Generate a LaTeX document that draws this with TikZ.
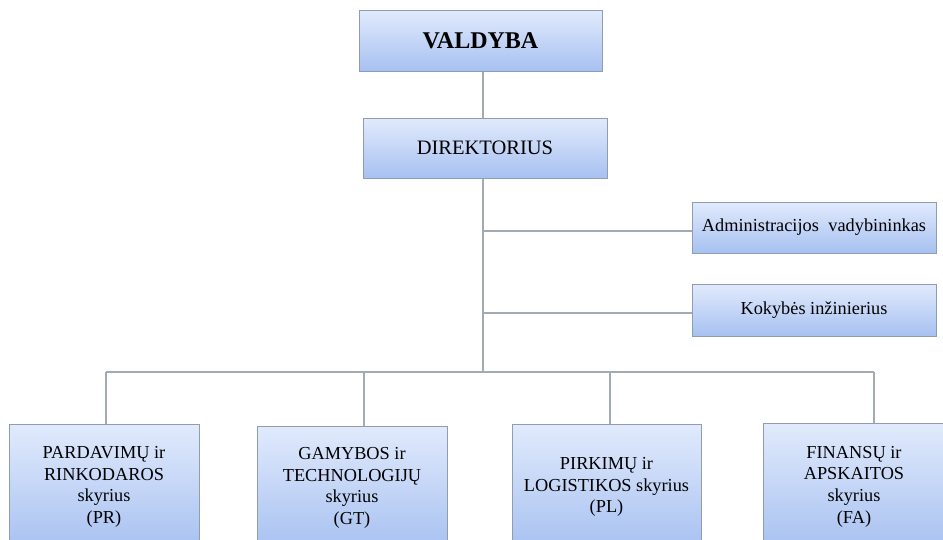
\documentclass[tikz,border=0pt]{standalone}
\usepackage{fontspec}
\setmainfont{Liberation Serif}
\newfontfamily\tnr{Liberation Serif}
\definecolor{boxtop}{HTML}{E1EAFC}
\definecolor{boxbot}{HTML}{A7C1F1}
\definecolor{boxline}{HTML}{8E9DB0}
\definecolor{conn}{HTML}{A2AAB2}
\tikzset{
  orgbox/.style={draw=boxline, line width=1pt, top color=boxtop, bottom color=boxbot,
    inner sep=0pt, align=center, text=black},
  conline/.style={draw=conn, line width=1.2pt},
  bigtxt/.style={font=\tnr\fontsize{24}{28}\selectfont\bfseries},
  midtxt/.style={font=\tnr\fontsize{20.5}{24}\selectfont},
  smtxt/.style={font=\tnr\fontsize{18.3}{21.7}\selectfont}
}
\begin{document}
\begin{tikzpicture}[x=1pt,y=-1pt]
\useasboundingbox (0,0) rectangle (943,539);
\clip (0,0) rectangle (943,539);
\fill[white] (0,0) rectangle (943,539);
% nodes
\node[orgbox,bigtxt,minimum width=243pt,minimum height=61pt] (val) at (480.5,40.5) {VALDYBA};
\node[orgbox,midtxt,minimum width=244pt,minimum height=60pt] (dir) at (485,148) {DIREKTORIUS};
\node[orgbox,smtxt,minimum width=244pt,minimum height=51pt] (adm) at (814,227.5) {Administracijos\hspace{5pt} vadybininkas};
\node[orgbox,smtxt,minimum width=244pt,minimum height=52pt] (kok) at (814,310) {Kokybės inžinierius};
\node[orgbox,smtxt,minimum width=190pt,minimum height=125pt] (pr) at (104,487) {PARDAVIMŲ ir\\RINKODAROS\\skyrius\\(PR)};
\node[orgbox,smtxt,minimum width=190pt,minimum height=123pt] (gt) at (352,488) {GAMYBOS ir\\TECHNOLOGIJŲ\\skyrius\\(GT)};
\node[orgbox,smtxt,minimum width=189pt,minimum height=125pt] (pl) at (606.5,487) {PIRKIMŲ ir\\LOGISTIKOS skyrius\\(PL)};
\node[orgbox,smtxt,minimum width=182pt,minimum height=126pt] (fa) at (854,486.5) {FINANSŲ ir\\APSKAITOS\\skyrius\\(FA)};
% junction coordinates
\coordinate (tb) at (483,372);
\coordinate (j1) at (483,231);
\coordinate (j2) at (483,313);
\coordinate (b1) at (106,372);
\coordinate (b2) at (364,372);
\coordinate (b3) at (610,372);
\coordinate (b4) at (874,372);
% connectors
\draw[conline] (tb |- val.south) -- (tb |- dir.north);
\draw[conline] (tb |- dir.south) -- (tb);
\draw[conline] (j1) -- (j1 -| adm.west);
\draw[conline] (j2) -- (j2 -| kok.west);
\draw[conline] (b1) -- (b4);
\draw[conline] (b1) -- (b1 |- pr.north);
\draw[conline] (b2) -- (b2 |- gt.north);
\draw[conline] (b3) -- (b3 |- pl.north);
\draw[conline] (b4) -- (b4 |- fa.north);
\end{tikzpicture}
\end{document}
